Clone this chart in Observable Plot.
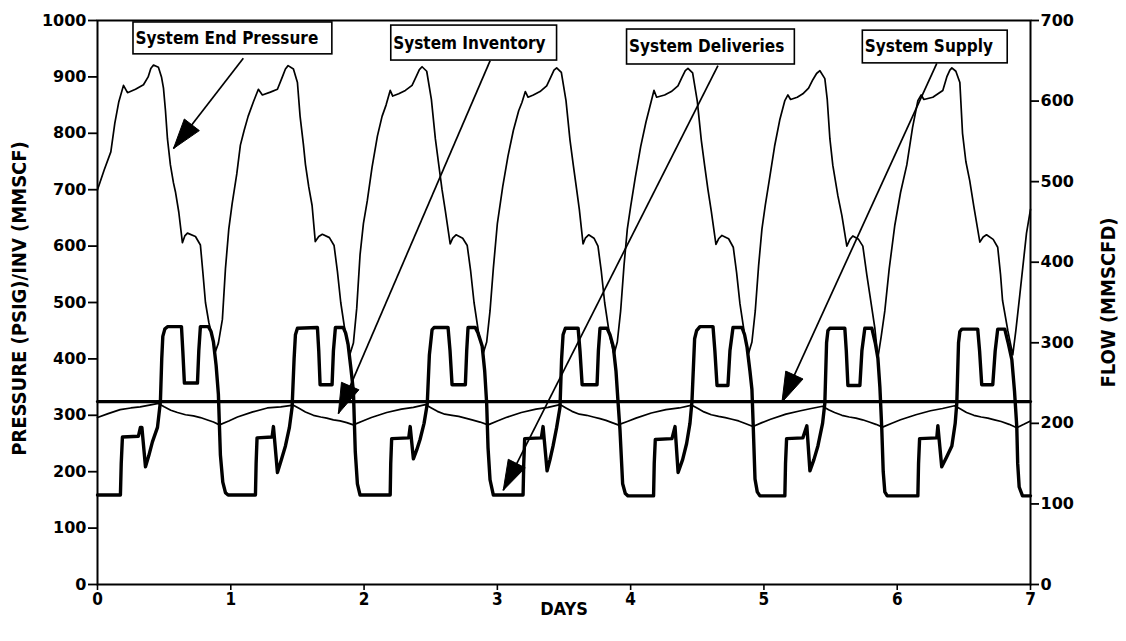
<!DOCTYPE html>
<html><head><meta charset="utf-8">
<script src="https://cdn.jsdelivr.net/npm/d3@7"></script>
<script src="https://cdn.jsdelivr.net/npm/@observablehq/plot@0.6"></script>
<style>
html,body{margin:0;padding:0;background:#fff;}
#chart svg{display:block;}
</style>
</head><body><div id="chart"></div>
<script>
// ---------- data ----------
const dayTicks = [0, 1, 2, 3, 4, 5, 6, 7];
const pressureTicks = [0, 100, 200, 300, 400, 500, 600, 700, 800, 900, 1000];
const flowTicks = [0, 100, 200, 300, 400, 500, 600, 700];
const xAxisTitle = "DAYS";
const leftAxisTitle = "PRESSURE (PSIG)/INV (MMSCF)";
const rightAxisTitle = "FLOW (MMSCFD)";

// System end pressure (PSIG, left axis)
const endPressure = [
[0,700],[0.05,735],[0.10,767],[0.13,818],[0.16,856],[0.195,885],[0.225,872],[0.285,878],[0.345,886],[0.38,900],[0.40,915],[0.42,921],[0.457,917],[0.48,900],[0.495,880],[0.51,840],[0.525,790],[0.547,744],[0.57,712],[0.585,696],[0.61,660],[0.637,606],[0.655,618],[0.675,623],[0.735,617],[0.772,602],[0.79,555],[0.81,500],[0.835,465],[0.862,437],[0.885,413],
[0.907,428],[0.937,470],[0.96,560],[0.985,630],[1.01,675],[1.045,728],[1.072,779],[1.10,805],[1.13,830],[1.17,856],[1.207,878],[1.237,868],[1.297,873],[1.35,878],[1.387,900],[1.41,914],[1.43,920],[1.47,914],[1.50,890],[1.52,830],[1.545,780],[1.56,745],[1.585,705],[1.61,672],[1.634,608],[1.66,617],[1.687,621],[1.74,615],[1.775,601],[1.80,555],[1.825,500],[1.86,445],[1.895,409],
[1.92,428],[1.945,490],[1.97,585],[1.995,640],[2.024,680],[2.06,740],[2.10,795],[2.135,830],[2.165,850],[2.196,876],[2.215,866],[2.26,870],[2.31,876],[2.36,885],[2.39,900],[2.415,913],[2.435,918],[2.47,910],[2.505,860],[2.535,790],[2.56,745],[2.585,700],[2.61,662],[2.646,604],[2.665,614],[2.69,620],[2.74,614],[2.774,601],[2.80,555],[2.825,500],[2.86,445],[2.895,411],
[2.92,430],[2.945,485],[2.97,561],[3.00,640],[3.04,705],[3.08,760],[3.12,805],[3.16,840],[3.185,855],[3.21,874],[3.23,864],[3.27,868],[3.32,874],[3.37,884],[3.40,899],[3.425,912],[3.445,916],[3.48,908],[3.515,858],[3.545,788],[3.57,743],[3.595,700],[3.615,665],[3.643,604],[3.66,614],[3.685,620],[3.725,614],[3.755,600],[3.78,555],[3.805,500],[3.84,445],[3.875,408],
[3.90,430],[3.925,485],[3.95,565],[3.975,630],[4.00,670],[4.035,722],[4.075,776],[4.115,820],[4.145,848],[4.175,876],[4.195,864],[4.255,868],[4.305,874],[4.355,884],[4.385,899],[4.41,911],[4.43,915],[4.465,907],[4.50,857],[4.53,788],[4.555,743],[4.58,700],[4.605,662],[4.64,603],[4.66,613],[4.685,619],[4.735,613],[4.77,598],[4.795,553],[4.82,498],[4.855,443],[4.885,410],
[4.91,430],[4.935,485],[4.96,565],[4.985,630],[5.01,672],[5.045,724],[5.08,777],[5.12,825],[5.157,858],[5.18,868],[5.20,860],[5.25,864],[5.292,870],[5.335,880],[5.367,895],[5.395,906],[5.42,911],[5.457,897],[5.475,860],[5.495,790],[5.517,743],[5.555,689],[5.585,654],[5.622,600],[5.645,612],[5.667,618],[5.71,612],[5.742,600],[5.772,549],[5.795,513],[5.832,455],[5.855,402],
[5.88,440],[5.907,485],[5.94,560],[5.982,637],[6.025,695],[6.072,744],[6.115,810],[6.155,858],[6.18,868],[6.20,860],[6.267,864],[6.342,876],[6.372,900],[6.395,912],[6.41,916],[6.44,910],[6.47,890],[6.49,800],[6.515,750],[6.544,716],[6.575,670],[6.62,607],[6.645,616],[6.67,620],[6.72,612],[6.754,598],[6.775,550],[6.79,504],[6.83,450],[6.867,407],[6.89,450],[6.92,514],[6.97,623],[7.0,665]
];

// System inventory (MMSCF, left axis)
const inventory = [
[0,296],[0.08,303],[0.17,310],[0.25,313],[0.32,315],[0.39,318],[0.457,321],
[0.50,315],[0.55,309],[0.60,305],[0.66,301],[0.72,299],[0.772,296],[0.82,292],[0.87,288],[0.915,283],
[0.985,290],[1.05,297],[1.165,306],[1.274,313],[1.375,315],[1.47,318],
[1.515,312],[1.56,306],[1.62,300],[1.675,297],[1.72,295],[1.77,292],[1.82,290],[1.87,287],[1.92,283],
[1.99,290],[2.055,296],[2.17,305],[2.28,311],[2.37,314],[2.46,319],
[2.505,313],[2.55,307],[2.605,302],[2.66,300],[2.71,298],[2.76,295],[2.81,292],[2.87,288],[2.93,283],
[3.00,290],[3.065,296],[3.18,305],[3.29,311],[3.38,314],[3.47,319],
[3.515,313],[3.56,307],[3.615,302],[3.67,300],[3.72,297],[3.77,294],[3.815,291],[3.86,287],[3.906,283],
[3.975,289],[4.04,295],[4.155,304],[4.265,310],[4.365,313],[4.46,318],
[4.505,312],[4.55,306],[4.605,301],[4.66,298],[4.71,296],[4.76,293],[4.81,290],[4.865,285],[4.918,280],
[4.985,287],[5.05,293],[5.165,302],[5.275,308],[5.355,312],[5.44,316],
[5.485,310],[5.53,305],[5.585,300],[5.64,297],[5.69,295],[5.74,292],[5.79,288],[5.84,284],[5.89,279],
[5.96,286],[6.025,292],[6.14,301],[6.25,308],[6.34,312],[6.43,317],
[6.475,311],[6.52,305],[6.575,300],[6.63,297],[6.68,295],[6.73,292],[6.78,289],[6.84,284],[6.897,278],
[6.95,284],[7.0,290]
];

// System deliveries (MMSCFD, right axis)
const deliveries = [
[0,111],[0.172,111],[0.178,150],[0.187,183],[0.307,184],[0.322,195],[0.333,195],[0.36,146],[0.385,160],[0.412,177],[0.45,195],[0.472,227],[0.482,280],[0.49,308],[0.505,317],[0.525,320],[0.63,320],[0.64,290],[0.652,250],[0.75,250],[0.76,290],[0.772,320],[0.832,320],[0.852,314],[0.87,301],[0.89,272],[0.907,236],[0.922,161],[0.94,127],[0.96,114],[0.98,111],
[1.185,111],[1.19,150],[1.197,182],[1.31,183],[1.32,196],[1.35,139],[1.38,155],[1.41,172],[1.44,195],[1.46,220],[1.475,280],[1.485,310],[1.50,318],[1.65,319],[1.66,290],[1.67,248],[1.76,248],[1.77,290],[1.785,319],[1.844,319],[1.862,312],[1.88,298],[1.90,270],[1.92,240],[1.934,165],[1.95,125],[1.97,111],
[2.196,111],[2.20,150],[2.207,181],[2.335,182],[2.346,196],[2.37,156],[2.395,167],[2.42,180],[2.45,200],[2.474,224],[2.49,285],[2.51,316],[2.525,319],[2.63,319],[2.645,290],[2.66,248],[2.76,248],[2.77,290],[2.78,319],[2.834,319],[2.855,312],[2.886,296],[2.905,265],[2.92,224],[2.93,170],[2.945,130],[2.97,111],
[3.193,111],[3.198,150],[3.205,181],[3.33,182],[3.343,196],[3.373,141],[3.395,155],[3.418,172],[3.445,195],[3.47,220],[3.482,280],[3.493,310],[3.51,318],[3.606,318],[3.62,290],[3.636,248],[3.748,248],[3.758,290],[3.77,318],[3.823,318],[3.845,310],[3.87,295],[3.89,265],[3.906,225],[3.92,192],[3.94,125],[3.96,113],[3.98,110],
[4.172,110],[4.177,150],[4.185,180],[4.31,181],[4.333,196],[4.356,139],[4.39,155],[4.42,175],[4.445,200],[4.46,227],[4.48,305],[4.495,315],[4.52,320],[4.618,320],[4.632,290],[4.648,247],[4.73,247],[4.745,290],[4.768,319],[4.835,319],[4.855,310],[4.873,295],[4.895,265],[4.91,242],[4.918,205],[4.933,131],[4.95,115],[4.97,110],
[5.157,110],[5.162,150],[5.17,181],[5.292,182],[5.322,197],[5.345,141],[5.375,155],[5.405,172],[5.44,200],[5.457,225],[5.47,300],[5.48,315],[5.495,318],[5.607,318],[5.618,290],[5.63,247],[5.72,247],[5.735,290],[5.757,318],[5.81,318],[5.835,300],[5.855,281],[5.87,245],[5.884,194],[5.895,140],[5.907,115],[5.925,110],
[6.155,110],[6.16,150],[6.168,181],[6.297,182],[6.305,197],[6.334,146],[6.37,158],[6.41,172],[6.435,200],[6.447,225],[6.46,300],[6.47,314],[6.485,317],[6.604,317],[6.618,290],[6.634,248],[6.717,248],[6.735,290],[6.754,317],[6.807,317],[6.835,298],[6.86,279],[6.88,240],[6.897,196],[6.904,150],[6.915,121],[6.94,110],[7.0,110]
];

// System supply (MMSCFD, right axis)
const supply = [[0,227],[7,227]];

// Annotation callouts (days, left-axis units)
const calloutLabels = ["System End Pressure", "System Inventory", "System Deliveries", "System Supply"];
const calloutBoxes = [[0.270,1.762,940,996.5],[2.204,3.448,929,991],[3.973,5.232,922,984],[5.742,6.829,924,982]];
const calloutText = [[0.285,968],[2.219,960],[3.988,953],[5.757,953]];
const arrowTails = [[1.094,933],[2.946,929],[4.655,920],[6.297,924]];
const arrowTips = [[0.570,773],[1.807,303],[3.044,167],[5.135,323]];

// right axis: 700 MMSCFD spans the same height as 1000 on the left axis
const flowRatio = 700 / 1000;

// ---------- chart ----------
const BOLD = "'DejaVu Sans', sans-serif";
const COND = "'DejaVu Sans Condensed', 'DejaVu Sans', sans-serif";
const layout = {
  width: 1126, height: 641,
  marginLeft: 97, marginRight: 96, marginTop: 20, marginBottom: 57,
  x: {domain: [0, 7]},
  y: {domain: [0, 1000]},
  style: {background: "#fff", color: "#000", fontFamily: BOLD, overflow: "visible"}
};

const callouts = calloutLabels.map((label, i) => ({
  label,
  bx1: calloutBoxes[i][0], bx2: calloutBoxes[i][1], by1: calloutBoxes[i][2], by2: calloutBoxes[i][3],
  tx: calloutText[i][0], ty: calloutText[i][1],
  ax1: arrowTails[i][0], ay1: arrowTails[i][1], ax2: arrowTips[i][0], ay2: arrowTips[i][1]
}));

// probe to get the library's scales for arrowhead orientation
const probe = Plot.plot({...layout, marks: [Plot.frame()]});
const sx = probe.scale("x"), sy = probe.scale("y");
const headMarks = callouts.map(c => {
  const dx = sx.apply(c.ax2) - sx.apply(c.ax1);
  const dy = sy.apply(c.ay2) - sy.apply(c.ay1);
  const L = Math.hypot(dx, dy), ux = dx / L, uy = dy / L;
  const px = -uy, py = ux; // perpendicular
  const len = 30, half = 9.5;
  const symbol = {draw(ctx) {
    ctx.moveTo(0, 0);
    ctx.lineTo(-ux * len + px * half, -uy * len + py * half);
    ctx.lineTo(-ux * len - px * half, -uy * len - py * half);
    ctx.closePath();
  }};
  return Plot.dot([c], {x: "ax2", y: "ay2", symbol, fill: "#000", stroke: "#000", strokeWidth: 1});
});

const chart = Plot.plot({
  ...layout,
  marks: [
    Plot.line(endPressure, {x: d => d[0], y: d => d[1], stroke: "#000", strokeWidth: 1.7, strokeLinejoin: "round"}),
    Plot.line(inventory, {x: d => d[0], y: d => d[1], stroke: "#000", strokeWidth: 1.7, strokeLinejoin: "round"}),
    Plot.line(deliveries, {x: d => d[0], y: d => d[1] / flowRatio, stroke: "#000", strokeWidth: 3.4, strokeLinejoin: "round", strokeLinecap: "round"}),
    Plot.line(supply, {x: d => d[0], y: d => d[1] / flowRatio, stroke: "#000", strokeWidth: 3.2}),
    Plot.link(callouts, {x1: "ax1", y1: "ay1", x2: "ax2", y2: "ay2", stroke: "#000", strokeWidth: 1.7}),
    ...headMarks,
    Plot.rect(callouts, {x1: "bx1", x2: "bx2", y1: "by1", y2: "by2", fill: "#fff", stroke: "#000", strokeWidth: 1.6}),
    Plot.text(callouts, {x: "tx", y: "ty", text: "label", textAnchor: "start", fontSize: 17, fontWeight: "bold", fontFamily: COND, fill: "#000"}),
    Plot.frame({stroke: "#000", strokeWidth: 2}),
    Plot.axisX({ticks: dayTicks, tickFormat: d => String(d), tickSize: 6, tickPadding: 2, label: null, fontSize: 17, fontWeight: "bold", fontFamily: COND, strokeWidth: 1.6}),
    Plot.axisY({ticks: pressureTicks, tickFormat: d => String(d), tickSize: 9, tickPadding: 2, label: null, fontSize: 16, fontWeight: "bold", fontFamily: BOLD, strokeWidth: 1.8}),
    Plot.axisY({anchor: "right", ticks: flowTicks.map(v => v / flowRatio), tickFormat: d => String(Math.round(d * flowRatio)), tickSize: 8, tickPadding: 2, label: null, fontSize: 16, fontWeight: "bold", fontFamily: BOLD, strokeWidth: 1.8}),
    Plot.text([xAxisTitle], {frameAnchor: "bottom", textAnchor: "middle", dy: 30, fontSize: 18, fontWeight: "bold", fontFamily: COND, fill: "#000"}),
    Plot.text([leftAxisTitle], {frameAnchor: "left", textAnchor: "middle", dx: -78, dy: -4, rotate: -90, fontSize: 20, fontWeight: "bold", fontFamily: COND, fill: "#000"}),
    Plot.text([rightAxisTitle], {frameAnchor: "right", textAnchor: "middle", dx: 78, rotate: -90, fontSize: 20, fontWeight: "bold", fontFamily: COND, fill: "#000"})
  ]
});
document.getElementById("chart").appendChild(chart);
</script>
</body></html>
